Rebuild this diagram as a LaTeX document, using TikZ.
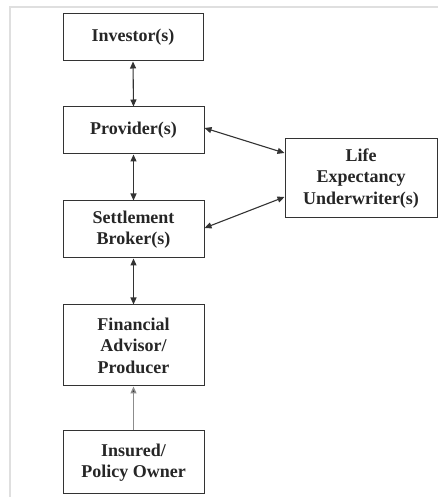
\documentclass[tikz,border=0pt]{standalone}
\usepackage{fontspec}
\setmainfont{Liberation Serif}
\usetikzlibrary{arrows.meta}
\begin{document}
\begin{tikzpicture}[x=1pt,y=1pt,
  box/.style={draw=black!80, line width=1pt, align=center, inner sep=0pt,
    font=\fontsize{18}{21.5}\selectfont\bfseries, text=black!85},
  link/.style={draw=black!80, line width=1.1pt, {Triangle[length=7pt,width=6pt]}-{Triangle[length=7pt,width=6pt]}},
  uplink/.style={draw=black!45, line width=1.3pt, -{Triangle[length=7pt,width=6pt,fill=black!80]}}]
\useasboundingbox (0,0) rectangle (438,497);
\draw[gray!25, line width=1.5pt] (10,0) -- (10,490) -- (438,490);
\node[box, minimum width=140pt, minimum height=47pt] (inv) at (133,459.5) {Investor(s)};
\node[box, minimum width=141pt, minimum height=47pt] (prov) at (133.5,366.5) {Provider(s)};
\node[box, minimum width=141pt, minimum height=57pt] (sett) at (133.5,267.5) {Settlement\\Broker(s)};
\node[box, minimum width=141pt, minimum height=81pt] (fin) at (133.5,151.5) {Financial\\Advisor/\\Producer};
\node[box, minimum width=141pt, minimum height=63pt] (ins) at (133.5,34.5) {Insured/\\Policy Owner};
\node[box, minimum width=152pt, minimum height=79pt] (life) at (361,318.5) {Life\\Expectancy\\Underwriter(s)};
\draw[link] (inv.south) -- (prov.north);
\draw[link] (prov.south) -- (sett.north);
\draw[link] (sett.south) -- (fin.north);
\draw[uplink] (ins.north) -- (fin.south);
\draw[link] ([yshift=2.5pt]prov.east) -- ([yshift=25.5pt]life.west);
\draw[link] ([yshift=1.5pt]sett.east) -- ([yshift=-18.5pt]life.west);
\end{tikzpicture}
\end{document}
